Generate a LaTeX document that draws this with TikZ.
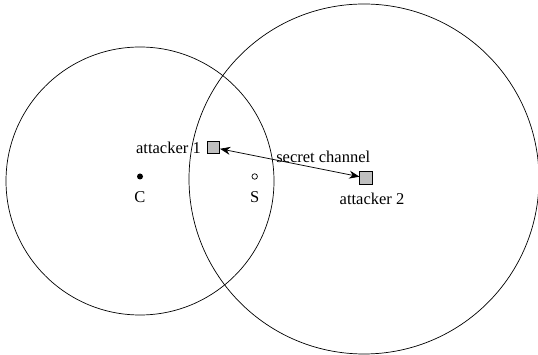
\documentclass[tikz,border=0pt]{standalone}
\usepackage{fontspec}
\setmainfont{Liberation Serif}
\usetikzlibrary{arrows.meta,positioning}
\tikzset{
  radio/.style={circle, draw, line width=0.7pt, inner sep=0pt},
  attacker/.style={rectangle, draw, fill=black!25, line width=0.6pt, minimum size=12.5pt, inner sep=0pt},
  client/.style={circle, fill=black, minimum size=6pt, inner sep=0pt},
  server/.style={circle, draw, fill=white, line width=0.7pt, minimum size=5.5pt, inner sep=0pt},
  lbl/.style={font=\fontsize{16.5}{19}\selectfont, inner sep=1pt},
  channel/.style={{Stealth[length=3.6mm,width=2.8mm]}-{Stealth[length=3.6mm,width=2.8mm]}, line width=0.7pt},
}
\begin{document}
\begin{tikzpicture}[x=1pt,y=-1pt]
\useasboundingbox (0,0) rectangle (538,355);
\node[radio, minimum size=268pt] (range1) at (140,181) {};
\node[radio, minimum size=350pt] (range2) at (364,179) {};

\node[client] (c) at (140,176.5) {};
\node[lbl, below=11pt of c] (clbl) {C};
\node[server] (s) at (254.7,176.5) {};
\node[lbl, below=11pt of s] (slbl) {S};

\node[attacker] (a1) at (213.5,147.5) {};
\node[lbl, left=5pt of a1] (a1lbl) {attacker 1};
\node[attacker] (a2) at (366,178) {};
\node[lbl, below=7pt of a2, xshift=6pt] (a2lbl) {attacker 2};

\draw[channel] (a1) -- node[lbl, pos=0.74, above=5pt] (chlbl) {secret channel} (a2);
\end{tikzpicture}
\end{document}
